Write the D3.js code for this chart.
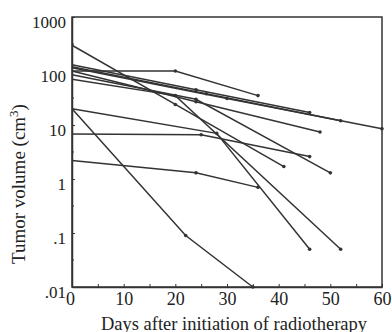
<!DOCTYPE html>
<html>
<head>
<meta charset="utf-8">
<script src="https://cdn.jsdelivr.net/npm/d3@7"></script>
<style>
  body { margin: 0; background: #fff; }
  svg { display: block; }
  .axis text { font-family: "Liberation Serif", "DejaVu Serif", serif; fill: #222; }
  .axis path, .axis line { stroke: #333; }
  .title { font-family: "Liberation Serif", "DejaVu Serif", serif; fill: #222; }
</style>
</head>
<body>
<div id="chart"></div>
<script>
// x ticks (days) and y ticks (cm3)
const xTicks = [0, 10, 20, 30, 40, 50, 60];
const yTicks = [0.01, 0.1, 1, 10, 100, 1000];
const yLabels = [".01", ".1", "1", "10", "100", "1000"];

// one array per patient: [day, volume]
const p300 = [[0, 300], [20, 24], [41, 1.7]];
const pA = [[0, 130], [24, 45], [46, 17]];
const pB = [[0, 120], [26, 38], [52, 12]];
const pC = [[0, 115], [30, 31], [60, 8.5]];
const pD = [[0, 100], [24, 27], [48, 7.4]];
const pE = [[0, 85], [24, 30], [50, 1.3]];
const pF = [[0, 70], [20, 35], [52, 0.05]];
const pG = [[0, 100], [20, 100], [36, 35]];
const p20steep = [[0, 20], [22, 0.09], [35, 0.01]];
const p20slow = [[0, 20], [28, 7], [46, 0.05]];
const p7 = [[0, 6.8], [25, 6.6], [46, 2.6]];
const p2 = [[0, 2.2], [24, 1.3], [36, 0.7]];

const patients = [p300, pA, pB, pC, pD, pE, pF, pG, p20steep, p20slow, p7, p2];

const width = 392, height = 332;
const margin = { top: 17, right: 10, bottom: 45, left: 72 };
const plotW = 382 - margin.left;
const plotH = 287 - margin.top;

const svg = d3.select('#chart').append('svg')
    .attr('width', width)
    .attr('height', height);

const x = d3.scaleLinear().domain([0, 60]).range([margin.left, margin.left + plotW]);
const y = d3.scaleLog().domain([0.01, 1000]).range([margin.top + plotH, margin.top]);

// frame
svg.append('rect')
    .attr('x', x(0))
    .attr('y', y(1000))
    .attr('width', x(60) - x(0))
    .attr('height', y(0.01) - y(1000))
    .attr('fill', 'none')
    .attr('stroke', '#333')
    .attr('stroke-width', 1.5);

// x axis, inward ticks every 5 days
let xAxis = svg.append('g')
    .classed('axis', true)
    .attr('transform', `translate(0, ${y(0.01)})`)
    .call(d3.axisBottom(x).tickValues(d3.range(0, 61, 5)).tickSize(-3).tickSizeOuter(0)
        .tickFormat(d => xTicks.includes(d) ? d : ''));
xAxis.select('.domain').attr('stroke-width', 1.5);
xAxis.selectAll('text')
    .attr('font-size', 18)
    .attr('dy', '0.85em')
    .attr('dx', d => d === 0 ? -2 : 0);

// y axis
let yAxis = svg.append('g')
    .classed('axis', true)
    .attr('transform', `translate(${x(0)}, 0)`)
    .call(d3.axisLeft(y).tickValues(yTicks).tickSize(-3).tickSizeOuter(0)
        .tickFormat((d, i) => yLabels[i]));
yAxis.select('.domain').attr('stroke-width', 1.5);
yAxis.selectAll('text')
    .attr('font-size', 17)
    .attr('x', -6)
    .attr('dy', '0.62em');

// half-decade minor ticks on the y axis
svg.append('g')
    .selectAll('line')
    .data([0.0316, 0.316, 3.16, 31.6, 316])
    .enter()
    .append('line')
    .attr('x1', x(0))
    .attr('x2', x(0) + 2)
    .attr('y1', d => y(d))
    .attr('y2', d => y(d))
    .attr('stroke', '#333');

// patient curves
let line = d3.line()
    .x(d => x(d[0]))
    .y(d => y(d[1]));

let curves = svg.append('g').selectAll('.patient')
    .data(patients)
    .enter()
    .append('g')
    .classed('patient', true);

curves.append('path')
    .attr('d', d => line(d))
    .attr('fill', 'none')
    .attr('stroke', '#333')
    .attr('stroke-width', 1.5);

curves.selectAll('circle')
    .data(d => d.slice(1))
    .enter()
    .append('circle')
    .attr('cx', d => x(d[0]))
    .attr('cy', d => y(d[1]))
    .attr('r', 1.8)
    .attr('fill', '#333');

// titles
svg.append('text')
    .classed('title', true)
    .attr('x', 234)
    .attr('y', 330)
    .attr('text-anchor', 'middle')
    .attr('font-size', 18.5)
    .text('Days after initiation of radiotherapy');

svg.append('text')
    .classed('title', true)
    .attr('transform', 'translate(25, 184) rotate(-90)')
    .attr('text-anchor', 'middle')
    .attr('font-size', 19)
    .html('Tumor volume (cm<tspan dy="-7" font-size="13">3</tspan><tspan dy="7">)</tspan>');
</script>
</body>
</html>
